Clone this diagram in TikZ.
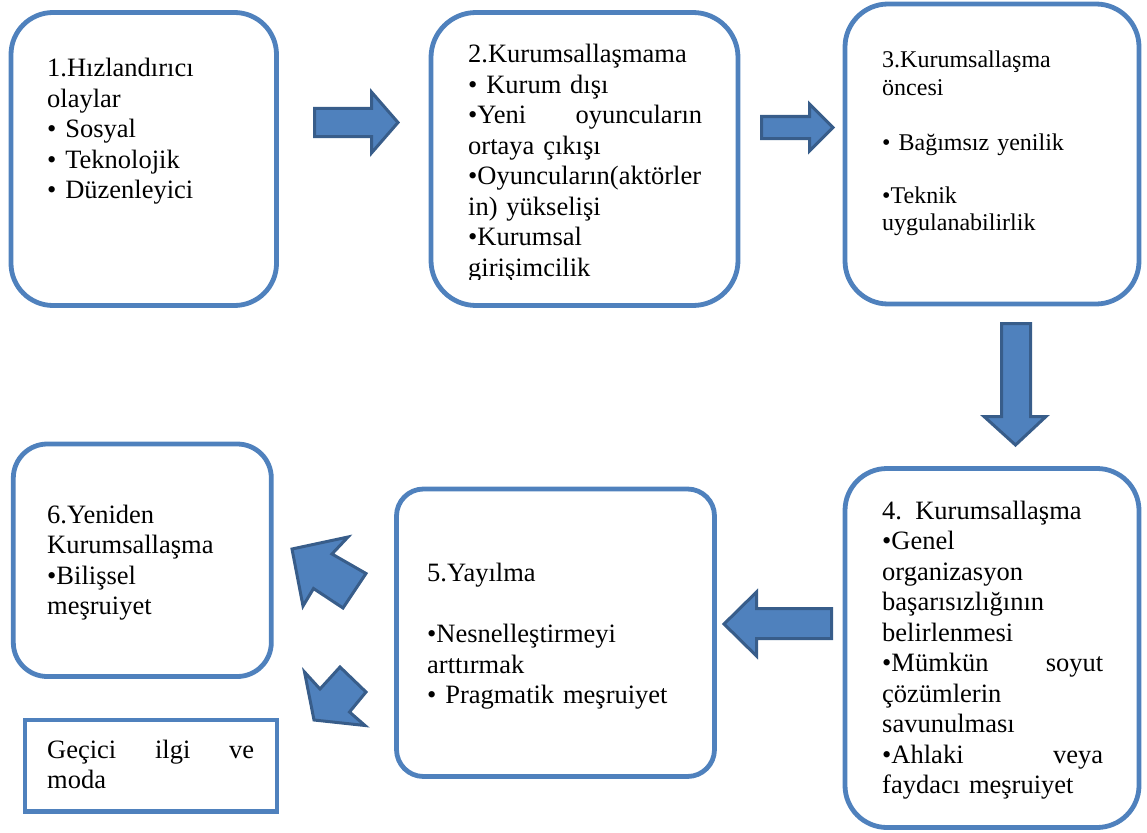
\documentclass[tikz,border=0pt]{standalone}
\usepackage{fontspec}
\setmainfont{Liberation Serif}
\definecolor{boxblue}{HTML}{4F81BD}
\definecolor{arrowedge}{HTML}{385D8A}
\begin{document}
\begin{tikzpicture}[x=1pt,y=-1pt,
  box/.style={draw=boxblue,line width=4.8pt,inner sep=0pt,fill=white},
  txt/.style={anchor=base west,inner sep=0pt,align=left,font=\fontsize{26.5}{30.5}\selectfont},
  blockarrow/.style={fill=boxblue,draw=arrowedge,line width=3pt,line join=miter}]
\useasboundingbox (0,0) rectangle (1147,832);
% boxes
\node[box,rounded corners=42pt,minimum width=265.5pt,minimum height=293pt] (b1) at (143.75,159) {};
\node[box,rounded corners=45pt,minimum width=307pt,minimum height=293pt] (b2) at (584.5,159) {};
\node[box,rounded corners=43pt,minimum width=294pt,minimum height=300pt] (b3) at (992,154) {};
\node[box,rounded corners=42pt,minimum width=294pt,minimum height=359pt] (b4) at (992,648) {};
\node[box,rounded corners=27pt,minimum width=318pt,minimum height=287.5pt] (b5) at (555.5,632.75) {};
\node[box,rounded corners=34pt,minimum width=258pt,minimum height=232.5pt] (b6) at (142.3,560.25) {};
\node[box,minimum width=252pt,minimum height=91.7pt] (g) at (151,765.85) {};
% texts
\node[txt,text width=228pt] (t1) at (47,77) {1.Hızlandırıcı\\ olaylar\\ • Sosyal\\ • Teknolojik\\ • Düzenleyici};
\begin{scope}
\clip (431,13) rectangle (738,279);
\node[txt,text width=234pt] (t2) at (468,63) {2.Kurumsallaşmama\\ • Kurum dışı\\ •Yeni\hfill oyuncuların\\ ortaya çıkışı\\ •Oyuncuların(aktörler\\ in) yükselişi\\ •Kurumsal\\ girişimcilik};
\end{scope}
\node[txt,text width=250pt,font=\fontsize{24}{28}\selectfont] (t3) at (882,68) {3.Kurumsallaşma\\ öncesi\\[26pt] • Bağımsız yenilik\\[25pt] •Teknik\\ uygulanabilirlik};
\node[txt,text width=221pt] (t4) at (882,519) {4. Kurumsallaşma\\ •Genel\\ organizasyon\\ başarısızlığının\\ belirlenmesi\\ •Mümkün\hfill soyut\\ çözümlerin\\ savunulması\\ •Ahlaki\hfill veya\\ faydacı meşruiyet};
\node[txt,text width=270pt] (t5) at (427,581) {5.Yayılma\\[31pt] •Nesnelleştirmeyi\\ arttırmak\\ • Pragmatik meşruiyet};
\node[txt,text width=215pt] (t6) at (47,523) {6.Yeniden\\ Kurumsallaşma\\ •Bilişsel\\ meşruiyet};
\node[txt,text width=207pt] (tg) at (47,758) {Geçici\hfill ilgi\hfill ve\\ moda};
% block arrows
\draw[blockarrow] (314.5,108.5) -- (371.5,108.5) -- (371.5,92) -- (398,122.5) -- (371.5,153) -- (371.5,136.5) -- (314.5,136.5) -- cycle;
\draw[blockarrow] (761.5,116.5) -- (809.5,116.5) -- (809.5,104) -- (833,127.5) -- (809.5,151) -- (809.5,138.5) -- (761.5,138.5) -- cycle;
\draw[blockarrow] (1001.5,323.5) -- (1030.5,323.5) -- (1030.5,416.5) -- (1046,416.5) -- (1015.5,445) -- (984,416.5) -- (1001.5,416.5) -- cycle;
\draw[blockarrow] (831.5,608.5) -- (756.5,608.5) -- (756.5,592) -- (724,624) -- (756.5,656) -- (756.5,638.5) -- (831.5,638.5) -- cycle;
\draw[blockarrow] (292,549) -- (348,537) -- (332,554) -- (366,573.5) -- (343,608) -- (313.5,588.5) -- (303,606) -- cycle;
\draw[blockarrow] (314,720) -- (304.5,672) -- (320,689) -- (340,667) -- (366,692) -- (349.5,712) -- (365,725.5) -- cycle;
\end{tikzpicture}
\end{document}
